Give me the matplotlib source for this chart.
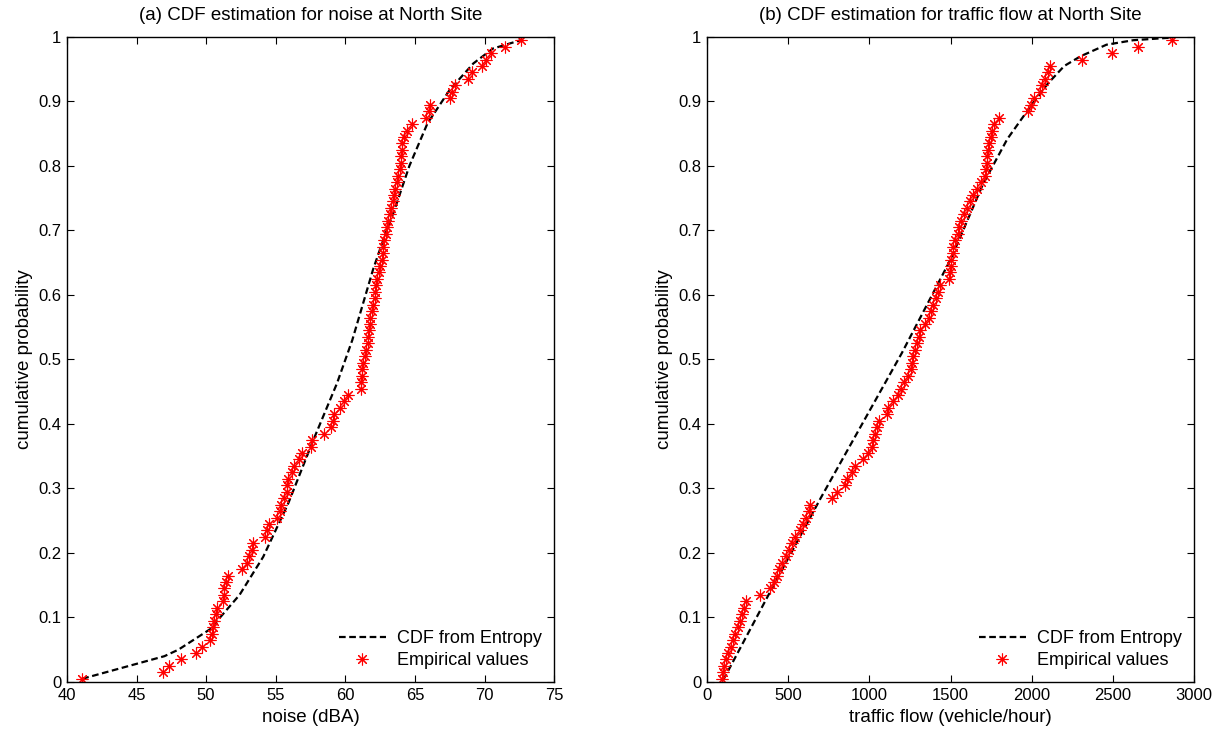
import numpy as np
import matplotlib
matplotlib.use('Agg')
import matplotlib.pyplot as plt

plt.rcParams['font.family'] = ['Liberation Sans', 'DejaVu Sans']

# empirical values (sorted), plotted against (i-0.5)/n
noise_emp = [41.1, 46.9, 47.3, 48.2, 49.3, 49.7, 50.3, 50.4, 50.5, 50.6,
             50.7, 50.8, 51.2, 51.3, 51.3, 51.4, 51.6, 52.6, 52.9, 53.1,
             53.3, 53.4, 54.2, 54.4, 54.5, 55.1, 55.3, 55.4, 55.6, 55.8,
             55.8, 55.9, 56.2, 56.3, 56.7, 56.9, 57.5, 57.6, 58.5, 59.0,
             59.1, 59.2, 59.6, 59.9, 60.2, 61.1, 61.1, 61.2, 61.2, 61.3,
             61.4, 61.5, 61.6, 61.6, 61.7, 61.8, 61.8, 61.9, 62.0, 62.1,
             62.1, 62.2, 62.3, 62.4, 62.5, 62.6, 62.7, 62.7, 62.8, 62.9,
             63.0, 63.1, 63.2, 63.3, 63.4, 63.5, 63.6, 63.7, 63.8, 63.9,
             64.0, 64.0, 64.05, 64.1, 64.2, 64.4, 64.8, 65.8, 66.0, 66.1,
             67.5, 67.7, 67.9, 68.8, 69.1, 69.8, 70.1, 70.5, 71.5, 72.6]

traffic_emp = [95, 100, 105, 115, 131, 145, 162, 175, 190, 203,
               215, 228, 240, 326, 388, 410, 430, 445, 460, 487,
               505, 525, 545, 570, 590, 610, 628, 635, 770, 800,
               850, 865, 891, 912, 963, 994, 1015, 1025, 1035, 1045,
               1061, 1110, 1117, 1144, 1175, 1195, 1214, 1240, 1255, 1262,
               1271, 1281, 1295, 1305, 1312, 1343, 1365, 1378, 1394, 1410,
               1420, 1435, 1490, 1497, 1500, 1505, 1512, 1518, 1528, 1545,
               1552, 1565, 1585, 1600, 1620, 1638, 1660, 1685, 1715, 1720,
               1723, 1726, 1730, 1739, 1750, 1756, 1765, 1800, 1979, 1995,
               2015, 2050, 2065, 2080, 2100, 2113, 2308, 2493, 2657, 2862]

# entropy CDF curves
noise_cdf_x = [41.1, 47.0, 48.0, 50.3, 51.0, 52.4, 54.1, 55.9, 57.7, 59.4,
               60.5, 62.0, 62.8, 63.5, 64.6, 65.9, 67.5, 69.2, 70.6, 72.6]
noise_cdf_p = [0.005, 0.040, 0.050, 0.082, 0.100, 0.135, 0.194, 0.277, 0.375, 0.463,
               0.530, 0.640, 0.690, 0.730, 0.800, 0.866, 0.918, 0.959, 0.982, 0.995]

traffic_cdf_x = [100, 400, 700, 1000, 1200, 1500, 1700, 1850, 2000, 2100,
                 2200, 2300, 2460, 2626, 2860]
traffic_cdf_p = [0.003, 0.145, 0.285, 0.42, 0.51, 0.655, 0.772, 0.842, 0.895, 0.928,
                 0.955, 0.97, 0.988, 0.995, 0.999]

n = len(noise_emp)
p_emp = (np.arange(1, n + 1) - 0.5) / n

fig = plt.figure(figsize=(12.24, 7.38), dpi=100)
ax1 = fig.add_axes([0.0547, 0.0759, 0.398, 0.874])
ax2 = fig.add_axes([0.5776, 0.0759, 0.398, 0.874])

panels = [
    (ax1, noise_emp, noise_cdf_x, noise_cdf_p, [40, 75], np.arange(40, 76, 5),
     'noise (dBA)', '(a) CDF estimation for noise at North Site'),
    (ax2, traffic_emp, traffic_cdf_x, traffic_cdf_p, [0, 3000], np.arange(0, 3001, 500),
     'traffic flow (vehicle/hour)', '(b) CDF estimation for traffic flow at North Site'),
]

for ax, emp, cx, cp, xlim, xt, xl, title in panels:
    ax.plot(cx, cp, color='black', lw=1.6, dashes=(3, 1.6), label='CDF from Entropy')
    ax.plot(emp, p_emp, ls='none', marker=(8, 2, 0), ms=8.5, mew=0.8,
            color='red', label='Empirical values')
    ax.set_xlim(xlim)
    ax.set_ylim(0, 1)
    ax.set_xticks(xt)
    ax.set_yticks(np.arange(0, 1.01, 0.1))
    ax.set_yticklabels(['0', '0.1', '0.2', '0.3', '0.4', '0.5', '0.6', '0.7', '0.8', '0.9', '1'])
    ax.tick_params(direction='in', top=True, right=True, length=5, labelsize=12, pad=4)
    for s in ax.spines.values():
        s.set_linewidth(1.0)
    ax.set_xlabel(xl, fontsize=13.5, labelpad=5)
    ax.set_ylabel('cumulative probability', fontsize=13.5, labelpad=4)
    ax.set_title(title, fontsize=13.5, pad=12)
    ax.legend(loc='lower right', frameon=False, fontsize=13, handlelength=2.6,
              borderaxespad=0.3, labelspacing=0.3, handletextpad=0.6)

fig.savefig('out.png', dpi=100)
